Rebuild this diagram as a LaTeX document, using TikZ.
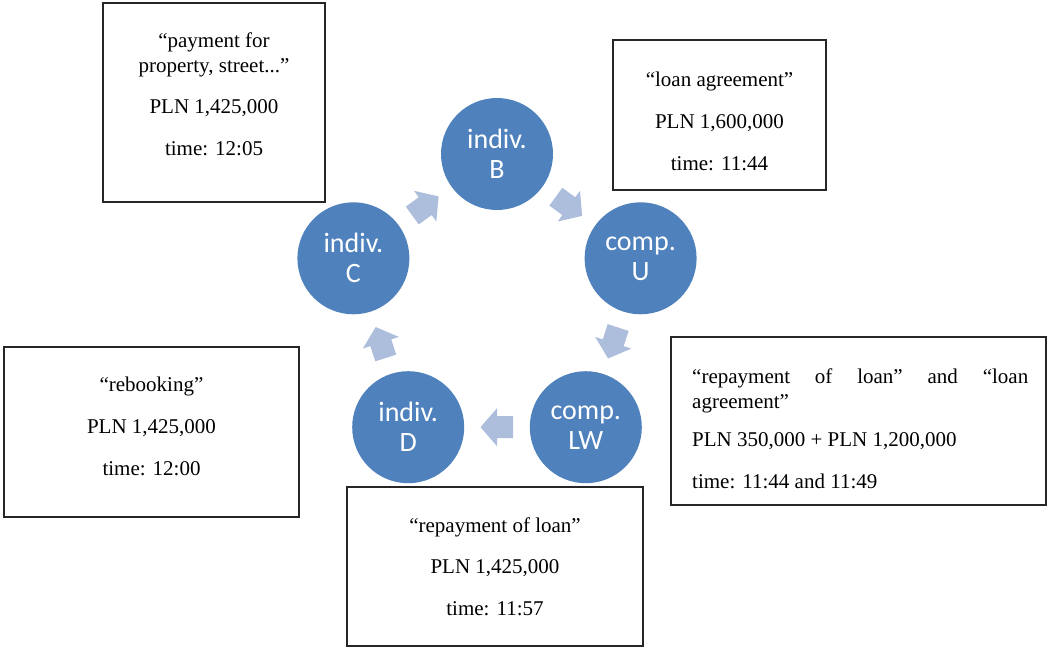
\documentclass[tikz,border=0pt]{standalone}
\usepackage{fontspec}
\setmainfont{Liberation Serif}
\newfontfamily\cfont{Carlito}
\usetikzlibrary{calc}
\definecolor{circblue}{RGB}{79,129,189}
\definecolor{arrblue}{RGB}{172,190,220}
\newcommand\cycarrow[2]{%
  \coordinate (m#1#2) at ($(#1)!0.5!(#2)$);
  \coordinate (t#1#2) at ($(m#1#2)!-16pt!(#2)$);
  \coordinate (h#1#2) at ($(m#1#2)!16.5pt!(#2)$);
  \fill[blockarr] ($(t#1#2)!11pt!90:(#2)$) -- ($(m#1#2)!11pt!90:(#2)$)
    -- ($(m#1#2)!19pt!90:(#2)$) -- (h#1#2)
    -- ($(m#1#2)!19pt!-90:(#2)$) -- ($(m#1#2)!11pt!-90:(#2)$)
    -- ($(t#1#2)!11pt!-90:(#2)$) -- cycle;}
\begin{document}
\begin{tikzpicture}[x=1pt,y=-1pt,
  circ/.style={circle, fill=circblue, minimum size=112pt, inner sep=0pt,
    text=white, font=\cfont\fontsize{28}{30}\selectfont, align=center},
  box/.style={draw=black!85, line width=1.1pt, inner sep=0pt, rectangle},
  boxtext/.style={font=\fontsize{21}{25}\selectfont, align=center, inner sep=0pt, anchor=north},
  blockarr/.style={fill=arrblue}]
\useasboundingbox (0,0) rectangle (1048,647);

% circles
\node[circ] (B)  at (497,154)   {indiv.\\B};
\node[circ] (U)  at (640.6,258.3) {comp.\\U};
\node[circ] (LW) at (585.8,427.2) {comp.\\LW};
\node[circ] (D)  at (408.2,427.2) {indiv.\\D};
\node[circ] (C)  at (353.4,258.3) {indiv.\\C};

% arrows
\cycarrow{B}{U}
\cycarrow{U}{LW}
\cycarrow{LW}{D}
\cycarrow{D}{C}
\cycarrow{C}{B}

% boxes
\node[box, minimum width=222pt, minimum height=199pt] (bTL) at (214,102.5) {};
\node[boxtext] (tTL) at (214,33) {“payment for\\property, street...”\\[16pt]PLN 1,425,000\\[17pt]time: 12:05};

\node[box, minimum width=213pt, minimum height=150pt] (bTR) at (719.5,115) {};
\node[boxtext] (tTR) at (719.5,71.5) {“loan agreement”\\[17pt]PLN 1,600,000\\[17pt]time: 11:44};

\node[box, minimum width=295pt, minimum height=170pt] (bL) at (151.5,432) {};
\node[boxtext] (tL) at (151.5,376.5) {“rebooking”\\[17pt]PLN 1,425,000\\[17pt]time: 12:00};

\node[box, minimum width=296pt, minimum height=159pt] (bB) at (495,566.5) {};
\node[boxtext] (tB) at (495,518) {“repayment of loan”\\[16pt]PLN 1,425,000\\[17pt]time: 11:57};

\node[box, minimum width=375pt, minimum height=168pt] (bR) at (858.5,421) {};
\node[font=\fontsize{21}{24.5}\selectfont, align=justify, text width=336pt, inner sep=0pt, anchor=north west] (tR) at (692,369)
  {“repayment of loan” and “loan\linebreak agreement”\\[13.5pt]PLN 350,000 + PLN 1,200,000\\[18pt]time: 11:44 and 11:49};
\end{tikzpicture}
\end{document}
